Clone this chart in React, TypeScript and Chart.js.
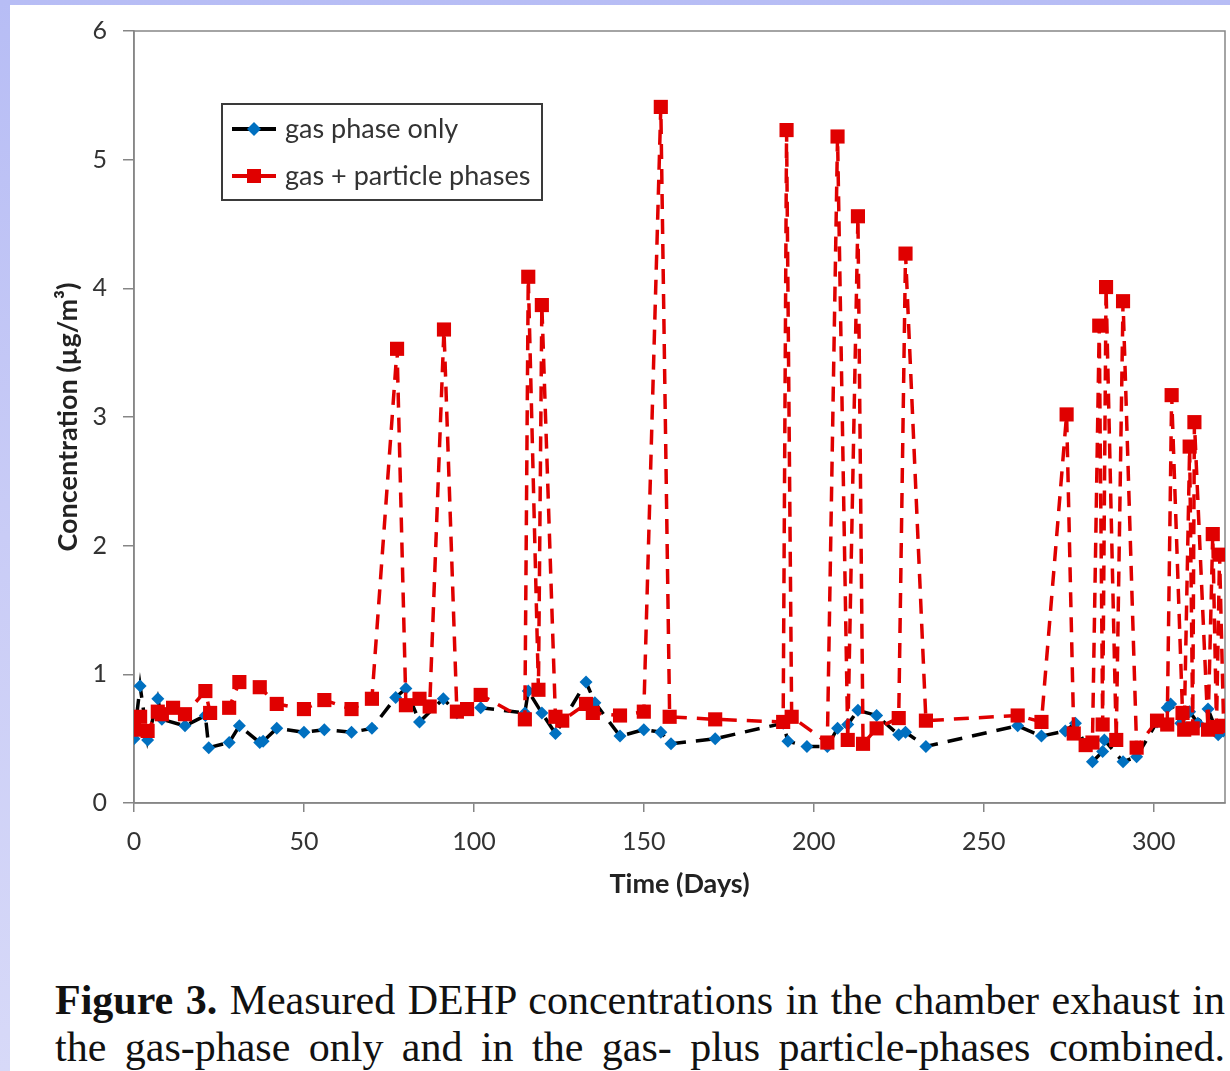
import React, { useEffect, useRef } from "react";
import { Chart, registerables } from "chart.js";

Chart.register(...registerables);

// ---- data ----
const gasDays = [0, 1.8, 4, 7, 8.2, 15, 21, 22, 28, 31, 37, 38, 42, 50, 56, 64, 70, 77, 80, 84, 91, 95, 102, 115, 116, 120, 124, 133, 135.6, 143, 150, 155, 158, 171, 191, 192.4, 198, 204, 207, 210, 213, 218.5, 225, 227, 233, 260, 267, 274, 277, 282, 285, 285.5, 291, 295, 301, 304, 305, 308, 310.6, 313, 316, 319, 320.5];
const gasValues = [0.50, 0.91, 0.49, 0.81, 0.65, 0.60, 0.68, 0.43, 0.47, 0.60, 0.47, 0.48, 0.58, 0.55, 0.57, 0.55, 0.58, 0.82, 0.89, 0.63, 0.81, 0.70, 0.74, 0.70, 0.87, 0.70, 0.54, 0.94, 0.78, 0.52, 0.57, 0.55, 0.46, 0.50, 0.62, 0.48, 0.44, 0.44, 0.58, 0.61, 0.72, 0.68, 0.53, 0.55, 0.44, 0.60, 0.52, 0.56, 0.62, 0.32, 0.40, 0.49, 0.32, 0.36, 0.63, 0.74, 0.77, 0.62, 0.71, 0.62, 0.73, 0.53, 0.56];

const totalDays = [0, 1.8, 4, 7, 8.2, 11.5, 15, 21, 22.4, 28, 31, 37, 42, 50, 56, 64, 70, 77.4, 80, 84, 87, 91.2, 95, 98, 102, 115, 116, 119, 120, 124, 126, 133, 135, 143, 150, 155, 157.6, 171, 191, 192, 193.5, 204, 207, 210, 213, 214.5, 218.5, 225, 227, 233, 260, 267, 274.4, 276.5, 280, 282, 284, 285, 286, 289, 291, 295, 301, 304, 305.3, 308.5, 309, 310.6, 311.5, 312, 316, 317.4, 318.5, 319.4, 320.6];
const totalValues = [0.57, 0.67, 0.56, 0.71, 0.69, 0.74, 0.69, 0.87, 0.70, 0.74, 0.94, 0.90, 0.77, 0.73, 0.80, 0.73, 0.81, 3.53, 0.76, 0.81, 0.75, 3.68, 0.71, 0.73, 0.84, 0.65, 4.09, 0.88, 3.87, 0.67, 0.64, 0.77, 0.70, 0.68, 0.71, 5.41, 0.67, 0.65, 0.63, 5.23, 0.67, 0.47, 5.18, 0.49, 4.56, 0.46, 0.58, 0.66, 4.27, 0.64, 0.68, 0.63, 3.02, 0.54, 0.45, 0.47, 3.71, 0.61, 4.01, 0.49, 3.90, 0.43, 0.64, 0.61, 3.17, 0.70, 0.57, 2.77, 0.58, 2.96, 0.57, 2.09, 0.59, 1.93, 0.60];

const seriesLabels = ["gas phase only", "gas + particle phases"];
const xTickValues = [0, 50, 100, 150, 200, 250, 300];
const yTickValues = [0, 1, 2, 3, 4, 5, 6];
const xTitle = "Time (Days)";
const yTitle = "Concentration (µg/m³)";
const captionLine1Bold = "Figure 3.";
const captionLine1 = " Measured DEHP concentrations in the chamber exhaust in";
const captionLine2 = "the gas-phase only and in the gas- plus particle-phases combined.";

const RED = "#e00000";
const BLUE = "#0070c0";
const AXIS = "#868686";
const TEXT = "#333333";

function toPoints(xs: number[], ys: number[]) {
  return xs.map((x, i) => ({ x, y: ys[i] }));
}

const framePlugin = {
  id: "frame",
  beforeDatasetsDraw(chart: any) {
    const { ctx, chartArea } = chart;
    ctx.save();
    ctx.strokeStyle = AXIS;
    ctx.lineWidth = 1.5;
    ctx.strokeRect(chartArea.left, chartArea.top, chartArea.right - chartArea.left, chartArea.bottom - chartArea.top);
    ctx.restore();
  },
};

const legendPlugin = {
  id: "boxLegend",
  afterDraw(chart: any) {
    const { ctx, chartArea } = chart;
    const x0 = chartArea.left + 88;
    const y0 = chartArea.top + 73;
    const w = 320;
    const h = 96;
    ctx.save();
    ctx.fillStyle = "#ffffff";
    ctx.fillRect(x0, y0, w, h);
    ctx.strokeStyle = "#3a3a3a";
    ctx.lineWidth = 2;
    ctx.strokeRect(x0, y0, w, h);
    const order = [1, 0];
    order.forEach((dsIndex, i) => {
      const ds = chart.data.datasets[dsIndex];
      const y = y0 + 25 + i * 47;
      ctx.beginPath();
      ctx.setLineDash([]);
      ctx.strokeStyle = ds.borderColor;
      ctx.lineWidth = 4;
      ctx.moveTo(x0 + 10, y);
      ctx.lineTo(x0 + 54, y);
      ctx.stroke();
      ctx.fillStyle = ds.pointBackgroundColor;
      ctx.beginPath();
      if (ds.pointStyle === "rectRot") {
        const r = 7;
        ctx.moveTo(x0 + 32 - r, y);
        ctx.lineTo(x0 + 32, y - r);
        ctx.lineTo(x0 + 32 + r, y);
        ctx.lineTo(x0 + 32, y + r);
        ctx.closePath();
      } else {
        ctx.rect(x0 + 32 - 7, y - 7, 14, 14);
      }
      ctx.fill();
      ctx.fillStyle = TEXT;
      ctx.font = "27px Lato";
      ctx.textBaseline = "middle";
      ctx.textAlign = "left";
      ctx.fillText(ds.label, x0 + 63, y);
    });
    ctx.restore();
  },
};

function ChartView() {
  const ref = useRef<HTMLCanvasElement | null>(null);
  useEffect(() => {
    if (!ref.current) return;
    const chart = new Chart(ref.current, {
      type: "line",
      data: {
        datasets: [
          {
            label: seriesLabels[1],
            data: toPoints(totalDays, totalValues),
            borderColor: RED,
            borderWidth: 3.5,
            borderDash: [15, 10],
            pointStyle: "rect",
            pointRadius: 10,
            pointBackgroundColor: RED,
            pointBorderColor: RED,
            pointBorderWidth: 0,
            tension: 0,
            order: 0,
          },
          {
            label: seriesLabels[0],
            data: toPoints(gasDays, gasValues),
            borderColor: "#000000",
            borderWidth: 3.5,
            borderDash: [15, 10],
            pointStyle: "rectRot",
            pointRadius: 6.5,
            pointBackgroundColor: BLUE,
            pointBorderColor: BLUE,
            pointBorderWidth: 0,
            tension: 0,
            order: 1,
          },
        ] as any,
      },
      options: {
        animation: false,
        responsive: false,
        maintainAspectRatio: false,
        layout: { autoPadding: false, padding: { top: 29, right: 5, left: 0, bottom: 0 } },
        plugins: {
          legend: { display: false },
          tooltip: { enabled: false },
          title: { display: false },
        },
        scales: {
          x: {
            type: "linear",
            min: 0,
            max: 321,
            afterBuildTicks: (scale: any) => {
              scale.ticks = xTickValues.map((v) => ({ value: v }));
            },
            afterFit: (scale: any) => {
              scale.height = 127;
              scale.paddingLeft = 0;
              scale.paddingRight = 0;
            },
            ticks: {
              font: { family: "Lato", size: 25 },
              color: TEXT,
              padding: 15,
              maxRotation: 0,
            },
            grid: { drawOnChartArea: false, drawTicks: true, tickLength: 9, color: AXIS, lineWidth: 1.5 },
            border: { display: true, color: AXIS, width: 1.5 },
            title: {
              display: true,
              text: xTitle,
              font: { family: "Lato", size: 27, weight: "bold" },
              color: "#222222",
              padding: { top: 0, bottom: 30 },
            },
          },
          y: {
            type: "linear",
            min: 0,
            max: 6,
            afterBuildTicks: (scale: any) => {
              scale.ticks = yTickValues.map((v) => ({ value: v }));
            },
            afterFit: (scale: any) => {
              scale.width = 134;
            },
            ticks: {
              font: { family: "Lato", size: 25 },
              color: TEXT,
              padding: 16,
            },
            grid: { drawOnChartArea: false, drawTicks: true, tickLength: 11, color: AXIS, lineWidth: 1.5 },
            border: { display: true, color: AXIS, width: 1.5 },
            title: {
              display: true,
              text: yTitle,
              font: { family: "Lato", size: 27, weight: "bold" },
              color: "#222222",
              padding: { top: 52, bottom: 0 },
            },
          },
        },
      } as any,
      plugins: [framePlugin, legendPlugin],
    });
    return () => chart.destroy();
  }, []);
  return (
    <canvas
      ref={ref}
      width={1230}
      height={930}
      style={{ position: "absolute", left: 0, top: 0, width: 1230, height: 930 }}
    />
  );
}

export default function App() {
  const lineStyle: React.CSSProperties = {
    textAlign: "justify",
    textAlignLast: "justify" as any,
    height: 47,
    lineHeight: "47px",
    overflow: "visible",
  };
  return (
    <div
      style={{
        position: "absolute",
        left: 0,
        top: 0,
        width: 1230,
        height: 1071,
        overflow: "hidden",
        background: "linear-gradient(180deg, #b7bdf5 0%, #c9ccf6 50%, #d7d9f8 100%)",
      }}
    >
      <div style={{ position: "absolute", left: 10, top: 5, width: 1220, height: 1066, background: "#ffffff" }} />
      <ChartView />
      <div
        style={{
          position: "absolute",
          left: 55,
          top: 977,
          width: 1170,
          fontFamily: "'Liberation Serif', 'DejaVu Serif', serif",
          fontSize: 42,
          color: "#111111",
        }}
      >
        <div style={lineStyle}>
          <b>{captionLine1Bold}</b>
          {captionLine1}
        </div>
        <div style={lineStyle}>{captionLine2}</div>
      </div>
    </div>
  );
}
